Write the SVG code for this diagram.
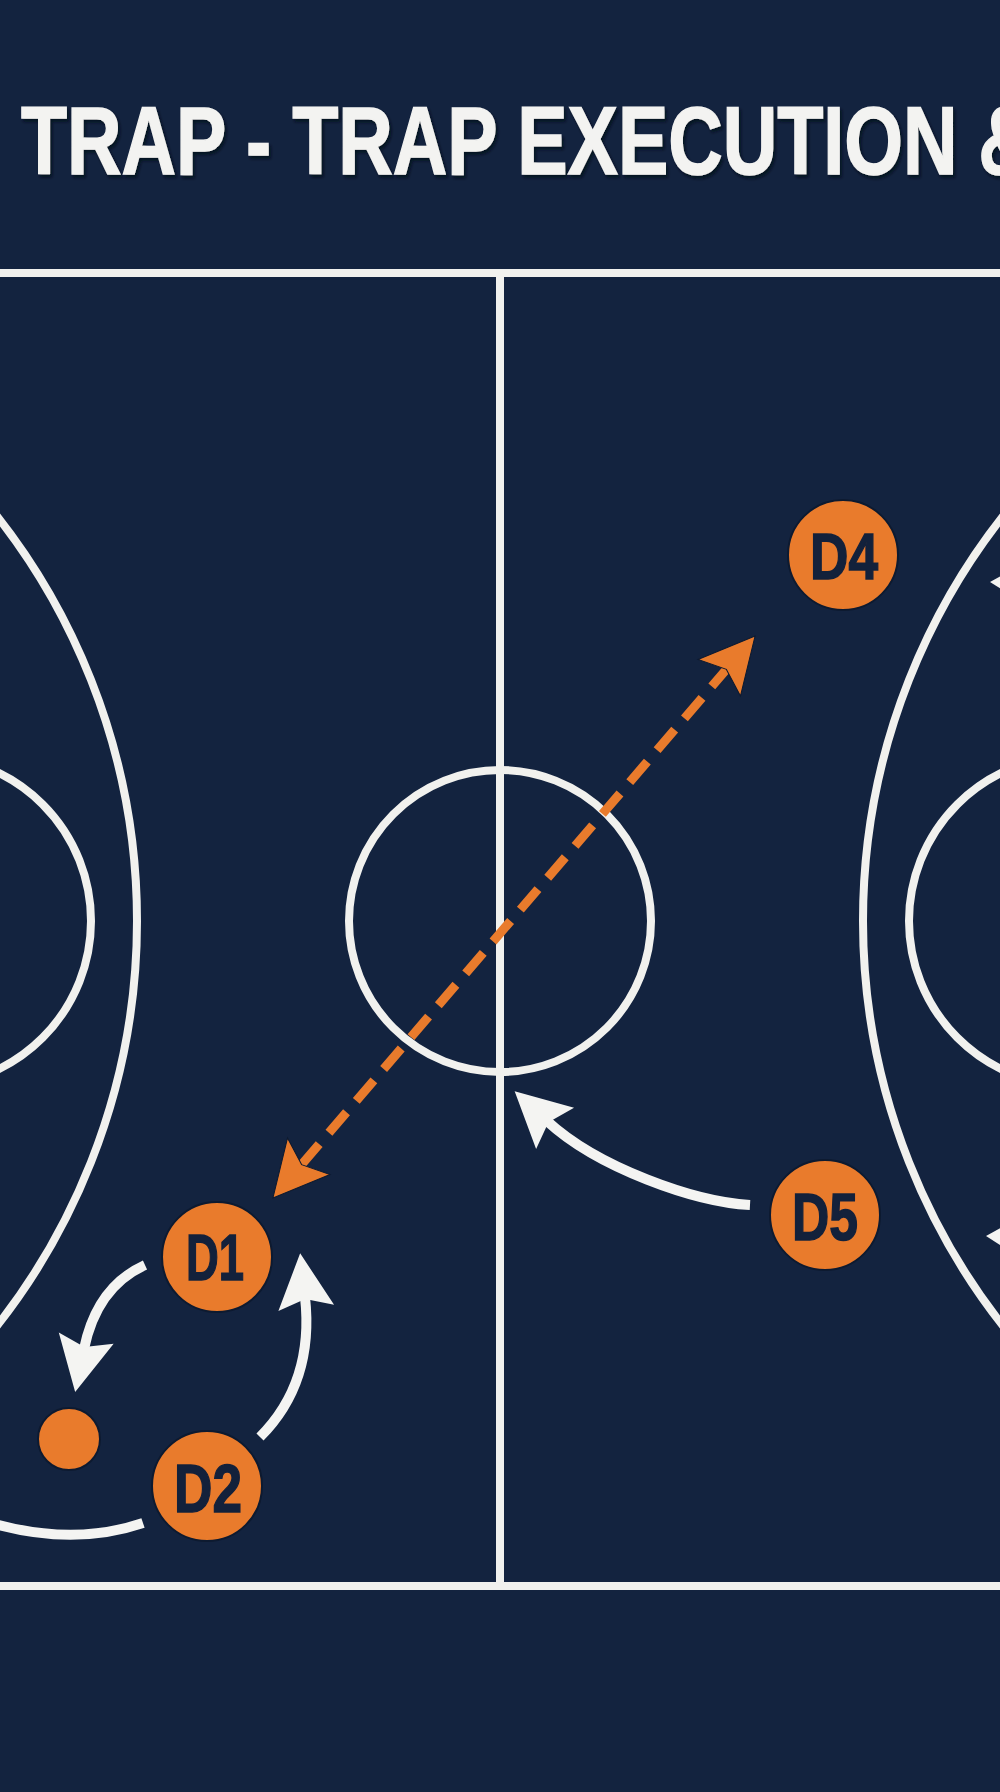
<svg xmlns="http://www.w3.org/2000/svg" width="1000" height="1792" viewBox="0 0 1000 1792">
  <defs>
    <style>
      .court { fill: none; stroke: #f1f1ee; stroke-width: 8; }
      .move { fill: none; stroke: #f4f4f2; stroke-width: 10; }
      .pass { fill: none; stroke: #e97b2c; stroke-width: 9; stroke-dasharray: 27 15; }
      .player { fill: #e97b2c; stroke: #0d1a30; stroke-width: 2; }
      .plabel { font-family: "Liberation Sans", Arial, sans-serif; font-weight: bold; fill: #13213b; stroke: #13213b; stroke-width: 1.5; text-anchor: middle; }
      .title { font-family: "Liberation Sans", Arial, sans-serif; font-weight: bold; fill: #f3f3f1; stroke: #f3f3f1; stroke-width: 1.5; }
    </style>
    <filter id="shadow" x="-5%" y="-20%" width="110%" height="140%">
      <feDropShadow dx="2" dy="3" stdDeviation="1.5" flood-color="#050b16" flood-opacity="0.8"/>
    </filter>
    <marker id="headOrange" markerUnits="userSpaceOnUse" markerWidth="60" markerHeight="60" viewBox="-12 -30 58 60" refX="0" refY="0" orient="auto-start-reverse">
      <path d="M44,0 L-11,-28 L0,0 L-11,28 Z" fill="#e97b2c" stroke="#0d1a30" stroke-width="1"/>
    </marker>
    <marker id="headWhite" markerUnits="userSpaceOnUse" markerWidth="60" markerHeight="60" viewBox="-12 -30 58 60" refX="0" refY="0" orient="auto">
      <path d="M44,0 L-11,-28 L-2,0 L-11,28 Z" fill="#f4f4f2"/>
    </marker>
  </defs>

  <rect x="0" y="0" width="1000" height="1792" fill="#13233f"/>

  <g id="title">
    <text class="title" x="21" y="174" font-size="96" textLength="1012" lengthAdjust="spacingAndGlyphs" filter="url(#shadow)">TRAP - TRAP EXECUTION &amp;</text>
  </g>

  <g id="court">
    <line class="court" x1="0" y1="273" x2="1000" y2="273"/>
    <line class="court" x1="0" y1="1586" x2="1000" y2="1586"/>
    <line class="court" x1="500" y1="273" x2="500" y2="1586"/>
    <circle class="court" cx="500" cy="921" r="151"/>
    <circle class="court" cx="-518" cy="921" r="655"/>
    <circle class="court" cx="1518" cy="921" r="655"/>
    <circle class="court" cx="-74" cy="921" r="165"/>
    <circle class="court" cx="1074" cy="921" r="165"/>
    <polygon points="990,582 1012,570 1012,596" fill="#f4f4f2"/>
    <polygon points="986,1236 1008,1224 1008,1250" fill="#f4f4f2"/>
  </g>

  <g id="connectors">
    <line class="pass" x1="301.6" y1="1164.6" x2="726.4" y2="669.4" marker-start="url(#headOrange)" marker-end="url(#headOrange)"/>
    <path class="move" d="M260,1437 C292,1405 312,1360 305,1297" marker-end="url(#headWhite)"/>
    <path class="move" d="M145,1265 C112,1280 92,1310 84,1349" marker-end="url(#headWhite)"/>
    <path class="move" d="M750,1205 C695,1202 598,1168 547,1121" marker-end="url(#headWhite)"/>
    <path class="move" d="M-5,1524 Q75,1546 143,1523"/>
  </g>

  <g id="ball">
    <circle class="player" cx="69" cy="1439" r="31"/>
  </g>

  <g id="D1">
    <circle class="player" cx="217" cy="1257" r="55"/>
    <text class="plabel" x="215" y="1280" font-size="65" textLength="58" lengthAdjust="spacingAndGlyphs">D1</text>
  </g>
  <g id="D2">
    <circle class="player" cx="207" cy="1486" r="55"/>
    <text class="plabel" x="208" y="1512" font-size="68" textLength="68" lengthAdjust="spacingAndGlyphs">D2</text>
  </g>
  <g id="D4">
    <circle class="player" cx="843" cy="555" r="55"/>
    <text class="plabel" x="844" y="579" font-size="65" textLength="68" lengthAdjust="spacingAndGlyphs">D4</text>
  </g>
  <g id="D5">
    <circle class="player" cx="825" cy="1215" r="55"/>
    <text class="plabel" x="825" y="1240" font-size="66" textLength="66" lengthAdjust="spacingAndGlyphs">D5</text>
  </g>
</svg>
